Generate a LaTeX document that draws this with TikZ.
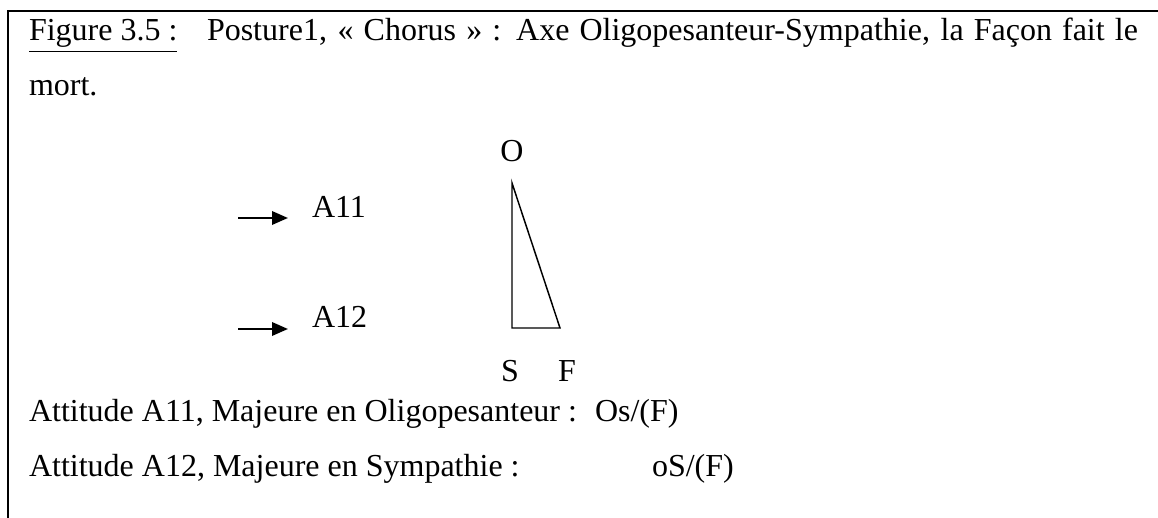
\documentclass[tikz,border=0pt]{standalone}
\usepackage{fontspec}
\setmainfont{Liberation Serif}
\usetikzlibrary{arrows.meta}
\begin{document}
\begin{tikzpicture}[x=0.375pt,y=-0.375pt,
  txt/.style={anchor=base west,inner sep=0pt,outer sep=0pt,font=\fontsize{12}{14}\selectfont},
  ctxt/.style={anchor=base,inner sep=0pt,outer sep=0pt,font=\fontsize{12}{14}\selectfont},
  border/.style={line width=0.75pt},
  arr/.style={line width=0.9pt,-{Triangle[length=6pt,width=5pt]}},
  tri/.style={line width=0.55pt,line join=miter}]
\useasboundingbox (0,0) rectangle (1158,518);
% frame
\coordinate (fr1) at (1158,11);
\coordinate (fr2) at (8,11);
\coordinate (fr3) at (8,518);
\draw[border] (fr1) -- (fr2) -- (fr3);
% caption
\node[txt] (fig) at (29,41) {\underline{Figure 3.5 :}};
\node[txt] (cap) at (207,41) {\makebox[349.1pt][s]{Posture1, «~Chorus~» : Axe Oligopesanteur-Sympathie, la Façon fait le}};
\node[txt] (mort) at (29,96) {mort.};
% triangle
\node[ctxt] (O) at (512,162) {O};
\node[ctxt] (S) at (510,382) {S};
\node[ctxt] (F) at (567,382) {F};
\coordinate (tO) at (512,183);
\coordinate (tS) at (512,328);
\coordinate (tF) at (560,328);
\draw[tri] (tO) -- (tS) -- (tF) -- cycle;
% attitudes
\node[txt] (A11) at (312,218) {A11};
\node[txt] (A12) at (312,328) {A12};
\coordinate (a11s) at (238,218);
\coordinate (a11e) at (288,218);
\coordinate (a12s) at (238,329);
\coordinate (a12e) at (288,329);
\draw[arr] (a11s) -- (a11e);
\draw[arr] (a12s) -- (a12e);
% bottom lines
\node[txt] (L1) at (29,422) {Attitude A11, Majeure en Oligopesanteur :};
\node[txt] (R1) at (595,422) {Os/(F)};
\node[txt] (L2) at (29,477) {Attitude A12, Majeure en Sympathie :};
\node[txt] (R2) at (652,477) {oS/(F)};
\end{tikzpicture}
\end{document}
